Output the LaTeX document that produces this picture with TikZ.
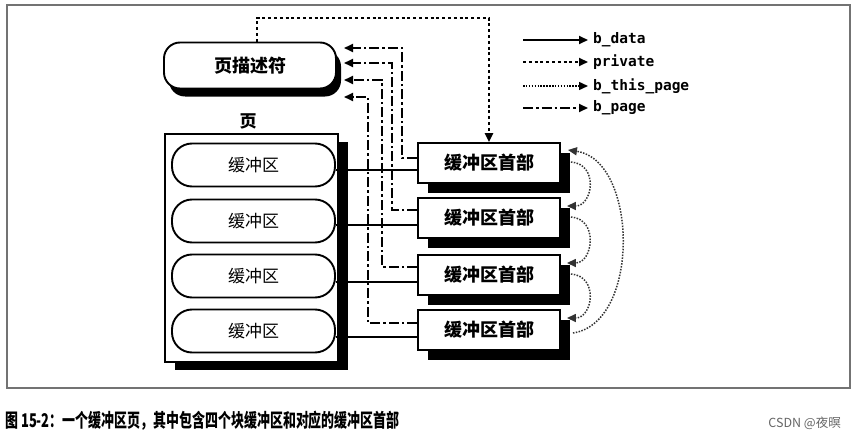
\documentclass[tikz,border=0pt]{standalone}
\usepackage{graphicx}
\usepackage{fontspec}
\newfontfamily\cjk{Noto Sans CJK SC}
\newfontfamily\mono{DejaVu Sans Mono}
\usetikzlibrary{arrows.meta,shadows}
\begin{document}
\begin{tikzpicture}[x=1pt,y=-1pt,
  tip/.style={-{Triangle[length=9pt,width=8pt]}},
  datal/.style={line width=1.9pt},
  privl/.style={line width=2.6pt,dash pattern=on 3pt off 2.8pt},
  thisl/.style={line width=1.5pt,dash pattern=on 1.5pt off 1.4pt,draw=black!80},
  pagel/.style={line width=2pt,dash pattern=on 10pt off 3pt on 2.5pt off 3pt},
  framel/.style={draw=black!55,line width=1.5pt},
  cjkbig/.style={font=\cjk\bfseries\fontsize{18pt}{20pt}\selectfont},
  descbox/.style={draw,line width=1.9pt,fill=white,rounded corners=16pt,minimum width=172pt,minimum height=46pt,inner sep=0pt,cjkbig,
     drop shadow={shadow xshift=5pt,shadow yshift=-8pt,fill=black,opacity=1}},
  pagebox/.style={draw,line width=1.4pt,fill=white,minimum width=173pt,minimum height=228pt,inner sep=0pt,
     drop shadow={shadow xshift=10pt,shadow yshift=-8pt,fill=black,opacity=1}},
  bufbox/.style={draw,line width=1.9pt,fill=white,rounded corners=20pt,minimum width=163pt,minimum height=43pt,inner sep=0pt,
     font=\cjk\fontsize{17pt}{19pt}\selectfont},
  hdrbox/.style={draw,line width=1.9pt,fill=white,minimum width=142pt,minimum height=40pt,inner sep=0pt,cjkbig,
     drop shadow={shadow xshift=10pt,shadow yshift=-10pt,fill=black,opacity=1}},
  legtext/.style={anchor=west,inner sep=0pt,font=\mono\bfseries\fontsize{14.5pt}{16pt}\selectfont}
]
\useasboundingbox (0,0) rectangle (865,436);
\fill[white] (0,0) rectangle (865,436);
\draw[framel] (7,5) rectangle (850,388);

% page descriptor
\node[descbox] (d) at (250,65.5) {页描述符};

% page
\node[pagebox] (p) at (251.5,248) {};
\node[inner sep=0pt,font=\cjk\bfseries\fontsize{17pt}{19pt}\selectfont] (pl) at (248,121) {页};

% buffers
\node[bufbox] (b1) at (253.5,165) {缓冲区};
\node[bufbox] (b2) at (253.5,221) {缓冲区};
\node[bufbox] (b3) at (253.5,276) {缓冲区};
\node[bufbox] (b4) at (253.5,331) {缓冲区};

% headers
\node[hdrbox] (h1) at (489,163) {缓冲区首部};
\node[hdrbox] (h2) at (489,218) {缓冲区首部};
\node[hdrbox] (h3) at (489,275) {缓冲区首部};
\node[hdrbox] (h4) at (489,330) {缓冲区首部};

% b_data
\foreach \i in {1,...,4}
  \draw[datal] ([yshift=-7pt]h\i.west) -- ([yshift=-7pt]h\i.west -| b\i.east);

% b_page
\coordinate (v1) at (402,48);  \coordinate (a1) at (344,48);
\coordinate (v2) at (392,63);  \coordinate (a2) at (344,63);
\coordinate (v3) at (382,80);  \coordinate (a3) at (344,80);
\coordinate (v4) at (368,97);  \coordinate (a4) at (344,97);
\draw[pagel,tip] ([yshift=5pt]h1.west) -| (v1) -- (a1);
\draw[pagel,tip] ([yshift=8pt]h2.west) -| (v2) -- (a2);
\draw[pagel,tip] ([yshift=8pt]h3.west) -| (v3) -- (a3);
\draw[pagel,tip] ([yshift=7pt]h4.west) -| (v4) -- (a4);

% private
\coordinate (ptop) at (257,18);
\draw[privl,tip] ([xshift=7pt]d.north) -- (ptop) -| (h1.north);

% b_this_page
\draw[thisl,tip] ([xshift=10pt,yshift=1pt]h1.east) .. controls +(28,2) and +(26,0) .. ([xshift=6pt,yshift=12pt]h2.east);
\draw[thisl,tip] ([xshift=10pt,yshift=1pt]h2.east) .. controls +(28,2) and +(26,0) .. ([xshift=6pt,yshift=12pt]h3.east);
\draw[thisl,tip] ([xshift=10pt,yshift=1pt]h3.east) .. controls +(28,2) and +(26,0) .. ([xshift=6pt,yshift=12pt]h4.east);
\draw[thisl,tip] ([xshift=12pt,yshift=-3pt]h4.east) .. controls +(68,-10) and +(70,10) .. ([xshift=7pt,yshift=13pt]h1.east);

% legend
\coordinate (l1s) at (523,40);  \coordinate (l1e) at (588,40);
\coordinate (l2s) at (523,62);  \coordinate (l2e) at (588,62);
\coordinate (l3s) at (523,86);  \coordinate (l3e) at (588,86);
\coordinate (l4s) at (523,108); \coordinate (l4e) at (588,108);
\draw[datal,tip] (l1s) -- (l1e);
\draw[privl,tip] (l2s) -- (l2e);
\draw[thisl,draw=black,tip] (l3s) -- (l3e);
\draw[pagel,tip] (l4s) -- (l4e);
\node[legtext] (t1) at (593,40) {b\_data};
\node[legtext] (t2) at (593,62) {private};
\node[legtext] (t3) at (593,86) {b\_this\_page};
\node[legtext] (t4) at (593,108) {b\_page};

% caption
\node[anchor=west,inner sep=0pt] (cap) at (5,421) {\scalebox{0.72}[1.05]{\cjk\bfseries\fontsize{18pt}{20pt}\selectfont 图 15-2：一个缓冲区页，其中包含四个块缓冲区和对应的缓冲区首部}};
\node[anchor=east,inner sep=0pt,text=black!60,font=\cjk\fontsize{12.5pt}{14pt}\selectfont] (wm) at (841,423) {CSDN @夜暝};
\end{tikzpicture}
\end{document}
